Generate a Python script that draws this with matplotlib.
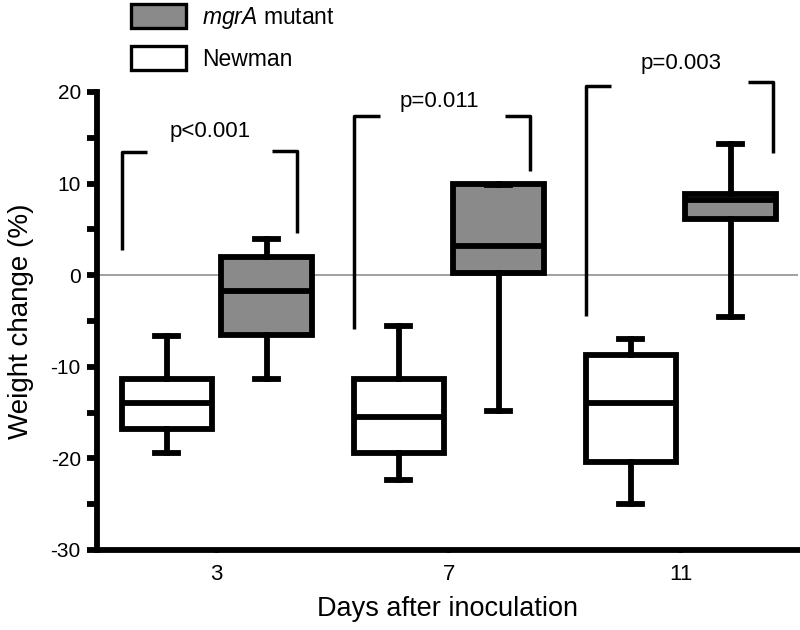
import matplotlib
matplotlib.use("Agg")
import matplotlib.pyplot as plt
from matplotlib.patches import Patch

plt.rcParams["font.family"] = ["Liberation Sans", "DejaVu Sans"]
plt.rcParams["mathtext.fontset"] = "custom"
plt.rcParams["mathtext.it"] = "Liberation Sans:italic"
plt.rcParams["mathtext.rm"] = "Liberation Sans"
plt.rcParams["axes.unicode_minus"] = False

# ── Data (weight change, %) ──────────────────────────────────────────────────
days = ["3", "7", "11"]

newman_whislo = [-19.4, -22.4, -25.0]
newman_q1 = [-16.8, -19.4, -20.4]
newman_med = [-13.9, -15.5, -14.0]
newman_q3 = [-11.3, -11.3, -8.7]
newman_whishi = [-6.6, -5.6, -7.0]

mutant_whislo = [-11.3, -14.8, -4.6]
mutant_q1 = [-6.5, 0.2, 6.1]
mutant_med = [-1.7, 3.2, 8.2]
mutant_q3 = [2.0, 9.9, 8.9]
mutant_whishi = [3.9, 9.8, 14.3]

p_labels = ["p<0.001", "p=0.011", "p=0.003"]
# bracket heights: left foot, left top, right top, right foot
br_left_lo = [2.8, -5.9, -4.5]
br_left_hi = [13.4, 17.4, 20.7]
br_right_hi = [13.6, 17.4, 21.1]
br_right_lo = [4.6, 11.4, 13.3]

C_MUT = "#8a8a8a"
C_NEW = "white"
LW_BOX = 4.2
LW_BR = 2.5


def make_stats(lo, q1, med, q3, hi):
    return [dict(whislo=a, q1=b, med=c, q3=d, whishi=e, fliers=[])
            for a, b, c, d, e in zip(lo, q1, med, q3, hi)]


fig = plt.figure(figsize=(8, 6.3), dpi=100)
ax = fig.add_axes([0.121, 0.127, 0.876, 0.727])

x = list(range(len(days)))
off = 0.215
w = 0.39

ax.axhline(0, color="#999999", lw=1.3, zorder=0)

for stats, pos, fc in [
    (make_stats(newman_whislo, newman_q1, newman_med, newman_q3, newman_whishi),
     [i - off for i in x], C_NEW),
    (make_stats(mutant_whislo, mutant_q1, mutant_med, mutant_q3, mutant_whishi),
     [i + off for i in x], C_MUT),
]:
    ax.bxp(stats, positions=pos, widths=w, capwidths=0.1, patch_artist=True,
           showfliers=False, manage_ticks=False,
           boxprops=dict(facecolor=fc, edgecolor="black", linewidth=LW_BOX),
           medianprops=dict(color="black", linewidth=LW_BOX),
           whiskerprops=dict(color="black", linewidth=LW_BOX),
           capprops=dict(color="black", linewidth=LW_BOX))

# significance brackets
br_x = [(-0.41, -0.30, 0.237, 0.345), (-0.41, -0.297, 0.241, 0.349),
        (-0.41, -0.30, 0.289, 0.397)]
text_dx = [-0.03, -0.04, 0.0]
text_y = [15.7, 19.0, 23.1]
for i in x:
    a, b, c, d = br_x[i]
    ax.plot([i + b, i + a, i + a], [br_left_hi[i], br_left_hi[i], br_left_lo[i]],
            color="black", lw=LW_BR, clip_on=False, solid_capstyle="butt")
    ax.plot([i + c, i + d, i + d], [br_right_hi[i], br_right_hi[i], br_right_lo[i]],
            color="black", lw=LW_BR, clip_on=False, solid_capstyle="butt")
    ax.text(i + text_dx[i], text_y[i], p_labels[i], ha="center", va="center",
            fontsize=16, clip_on=False)

ax.set_xlim(-0.517, 2.504)
ax.set_ylim(-30, 20)
ax.set_xticks(x)
ax.set_xticklabels(days, fontsize=16)
ax.set_yticks(range(-30, 21, 10))
ax.set_yticks(range(-25, 20, 10), minor=True)
ax.tick_params(axis="y", which="both", length=7.5, width=4.2, labelsize=15, pad=4)
ax.tick_params(axis="x", length=2, width=3, pad=8)

for s in ["top", "right"]:
    ax.spines[s].set_visible(False)
for s in ["left", "bottom"]:
    ax.spines[s].set_linewidth(4.2)
ax.spines["left"].set_bounds(-30, 20)

ax.set_ylabel("Weight change (%)", fontsize=20, labelpad=12)
ax.set_xlabel("Days after inoculation", fontsize=19.5, labelpad=8)

handles = [Patch(facecolor=C_MUT, edgecolor="black", linewidth=2.4),
           Patch(facecolor=C_NEW, edgecolor="black", linewidth=2.4)]
fig.legend(handles, [r"$\mathit{mgrA}$ mutant", "Newman"],
           loc="upper left", bbox_to_anchor=(131 / 800, 1 - 4 / 630),
           frameon=False, fontsize=16.5, handlelength=2.4, handleheight=1.25,
           labelspacing=0.65, handletextpad=0.7, borderpad=0, borderaxespad=0)

fig.savefig("out.png", dpi=100)
